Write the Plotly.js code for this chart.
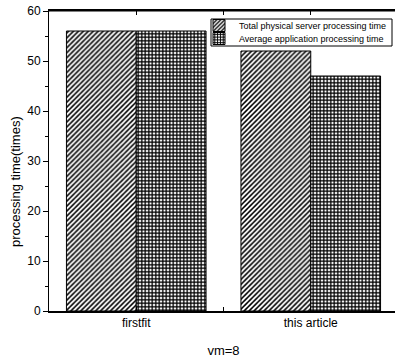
<!DOCTYPE html>
<html><head><meta charset="utf-8">
<script src="https://cdn.plot.ly/plotly-3.0.1.min.js"></script>
<style>html,body{margin:0;padding:0;overflow:hidden;background:#fff}#c{width:402px;height:358px}</style>
</head><body><div id="c"></div>
<script>
const categories = ["firstfit", "this article"];
const seriesNames = ["Total physical server processing time", "Average application processing time"];
const totalServer = [56, 52];
const avgApp = [56, 47];
const yTicks = [0, 10, 20, 30, 40, 50, 60];
const yTitle = "processing time(times)";
const xTitle = "vm=8";

const xs = categories.map((c, i) => i);
const font = "Liberation Sans, Arial, sans-serif";

const traces = [
  {type: "bar", name: seriesNames[0], x: xs, y: totalServer, legend: "legend",
   marker: {color: "white", line: {color: "black", width: 1},
            pattern: {shape: "/", fgcolor: "black", bgcolor: "white", size: 3.5, solidity: 0.45}}},
  {type: "bar", name: seriesNames[1], x: xs, y: avgApp, legend: "legend2",
   marker: {color: "white", line: {color: "black", width: 1},
            pattern: {shape: "+", fgcolor: "black", bgcolor: "white", size: 3.5, solidity: 0.6}}}
];

const legendBase = {xref: "container", yref: "container", x: 199/402, xanchor: "left", yanchor: "top",
           borderwidth: 0, bgcolor: "rgba(0,0,0,0)",
           font: {size: 9, family: font}, tracegroupgap: 0, itemwidth: 30};

const W = 402, H = 358, ml = 49, mr = 4, mt = 11, mb = 47;
const pw = W - ml - mr, ph = H - mt - mb;
const px2x = p => (p - ml) / pw, px2y = p => (H - mb - p) / ph;

const layout = {
  width: W, height: H,
  margin: {l: ml, r: mr, t: mt, b: mb, autoexpand: false},
  paper_bgcolor: "white", plot_bgcolor: "white",
  barmode: "group", bargap: 0.2, bargroupgap: 0,
  font: {family: font, color: "black", size: 12},
  showlegend: true,
  legend: Object.assign({}, legendBase, {y: 1 - 11/H}),
  legend2: Object.assign({}, legendBase, {y: 1 - 24/H}),
  xaxis: {range: [-0.5, 1.5], tickvals: xs, ticktext: categories,
          ticks: "inside", ticklen: 4, tickcolor: "black",
          minor: {dtick: 0.5, tick0: 0.5, ticks: "inside", ticklen: 4, tickcolor: "black"},
          showline: true, linecolor: "black", linewidth: 2, mirror: "ticks",
          showgrid: false, zeroline: false, tickfont: {size: 12},
          title: {text: xTitle, font: {size: 13}, standoff: 18}},
  yaxis: {range: [0, 60], tickvals: yTicks,
          ticks: "outside", ticklen: 5, tickcolor: "black",
          minor: {dtick: 5, ticks: "outside", ticklen: 3, tickcolor: "black"},
          showline: true, linecolor: "black", linewidth: 1,
          showgrid: false, zeroline: false, tickfont: {size: 12}},
  annotations: [{text: yTitle, textangle: -90, showarrow: false,
                 xref: "paper", yref: "paper", x: px2x(15), y: px2y(182),
                 xanchor: "center", yanchor: "middle", font: {size: 13, family: font}}],
  shapes: [
    {type: "line", xref: "paper", yref: "paper", x0: 0, x1: 1, y0: 1, y1: 1,
     line: {color: "black", width: 1}},
    {type: "rect", layer: "above", xref: "paper", yref: "paper",
     x0: px2x(211), x1: px2x(392), y0: px2y(46), y1: px2y(19),
     fillcolor: "white", line: {color: "black", width: 1}}
  ]
};

Plotly.newPlot("c", traces, layout, {displayModeBar: false, staticPlot: true});
</script></body></html>
